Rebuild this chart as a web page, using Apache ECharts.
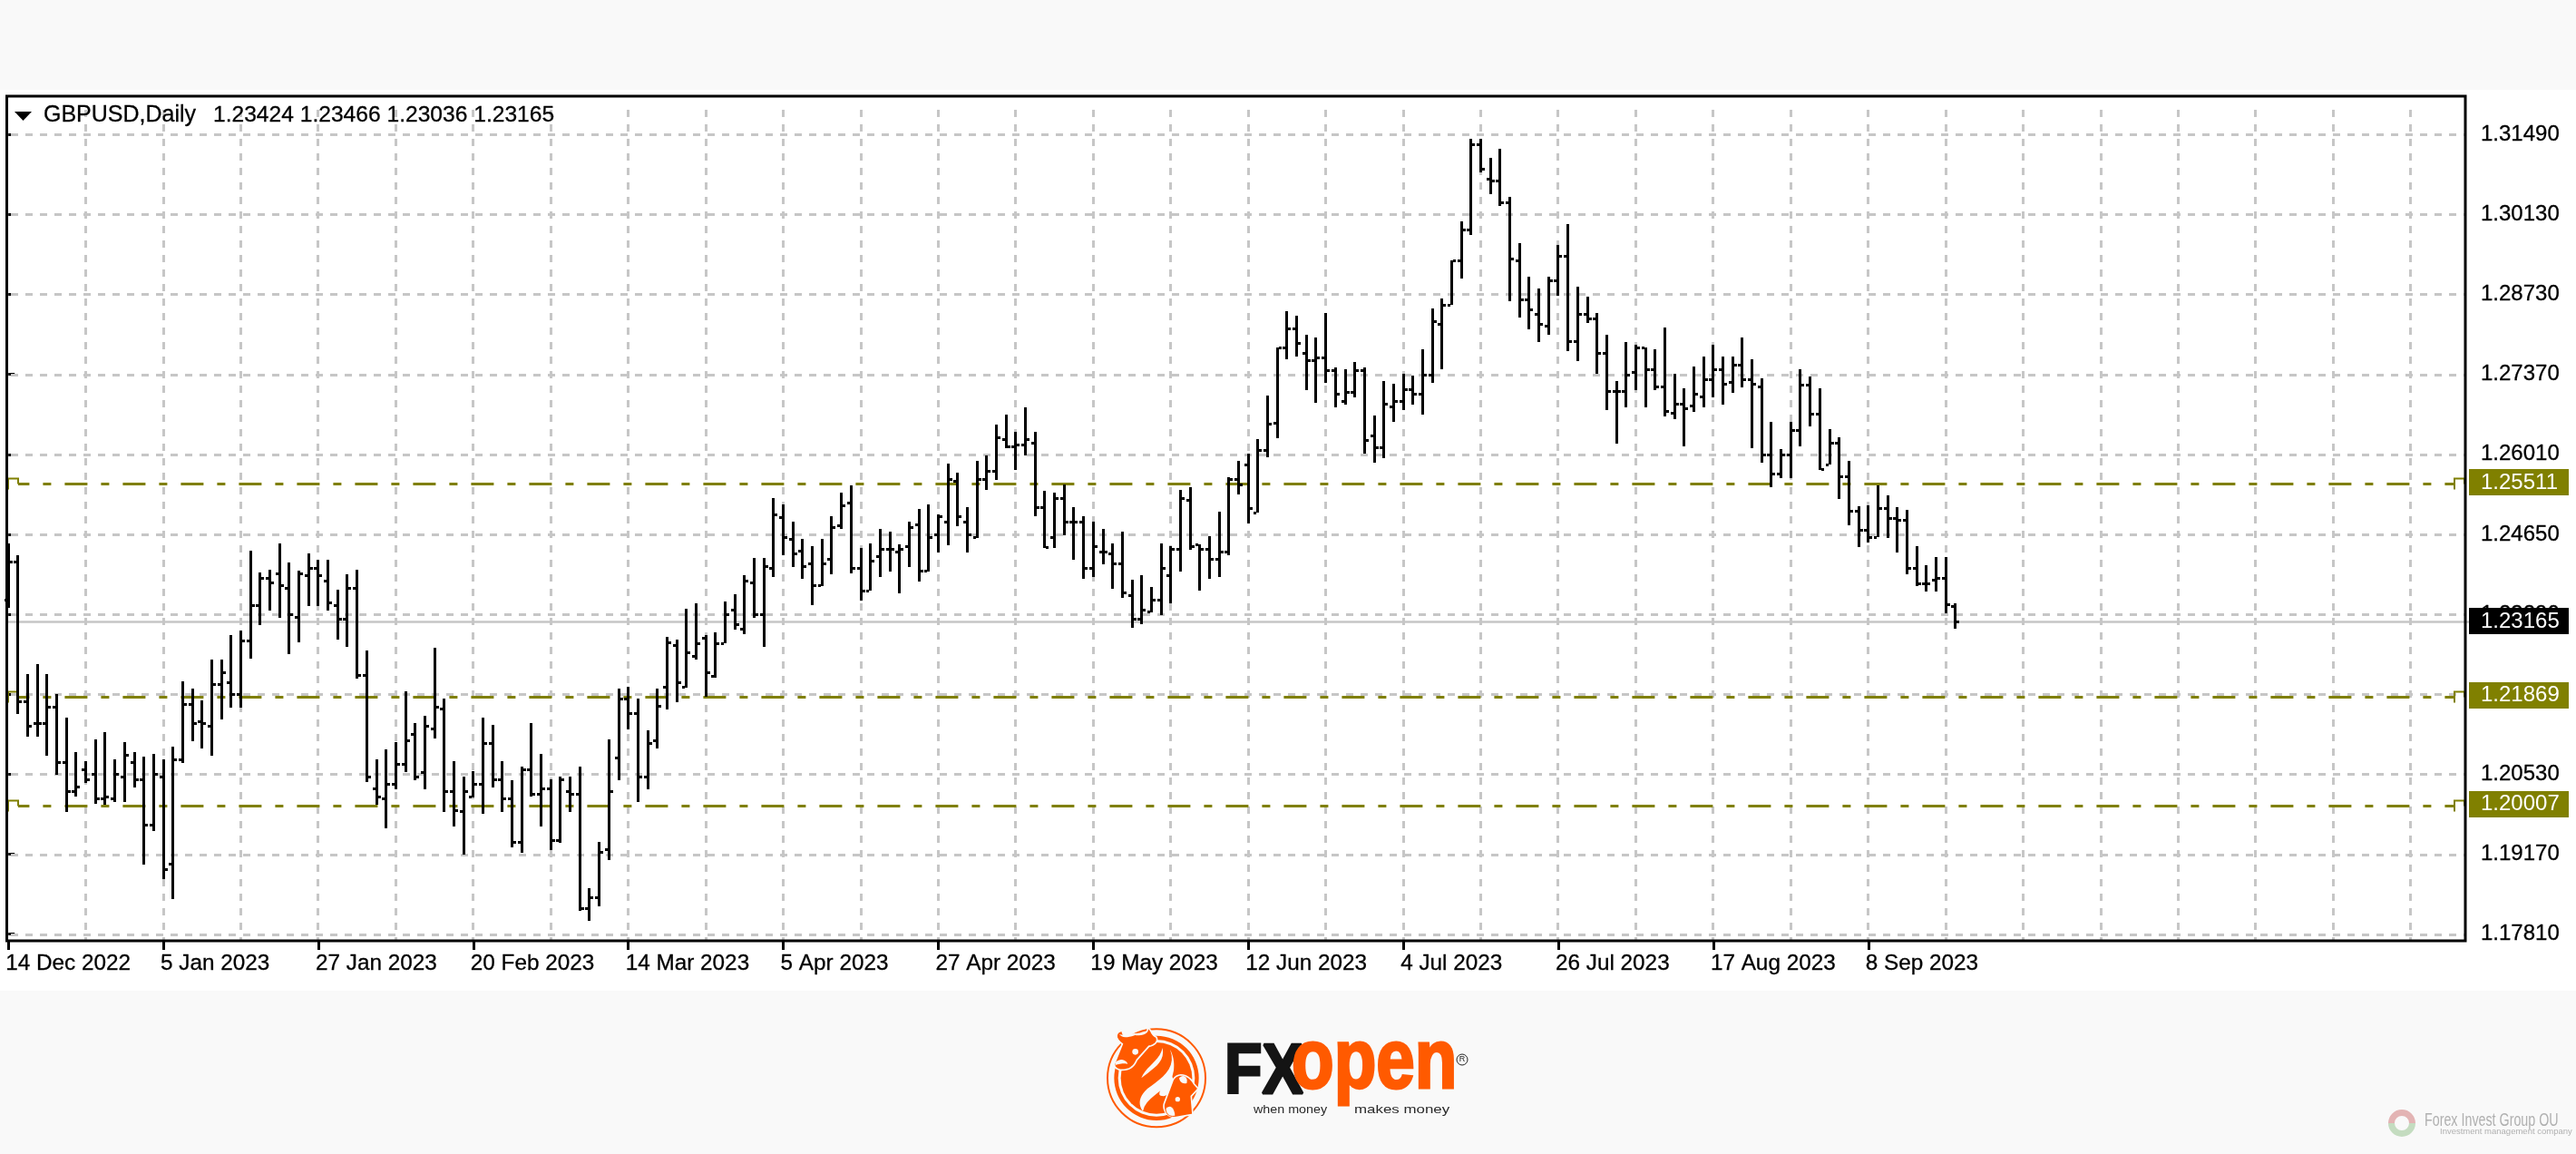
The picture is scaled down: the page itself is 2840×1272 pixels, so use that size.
<!DOCTYPE html>
<html><head><meta charset="utf-8">
<style>html,body{margin:0;padding:0;background:#f9f9f9}#c{width:2840px;height:1272px}</style>
<script src="https://cdn.jsdelivr.net/npm/echarts@6/dist/echarts.min.js"></script>
</head><body><div id="c"></div>
<script>
const symbolName = 'GBPUSD,Daily';
const lastQuote = ['1.23424','1.23466','1.23036','1.23165'];
const xTickBars = [0,16,32,48,64,80,96,112,128,144,160,176,192];
const xTickLabels = ['14 Dec 2022','5 Jan 2023','27 Jan 2023','20 Feb 2023','14 Mar 2023','5 Apr 2023','27 Apr 2023','19 May 2023','12 Jun 2023','4 Jul 2023','26 Jul 2023','17 Aug 2023','8 Sep 2023'];
const gridBars = [8,16,24,32,40,48,56,64,72,80,88,96,104,112,120,128,136,144,152,160,168,176,184,192,200,208,216,224,232,240,248];
const yGridValues = [1.3149,1.30122,1.28754,1.27386,1.26018,1.2465,1.23282,1.21914,1.20546,1.19178,1.1781];
const yTickLabels = ['1.31490','1.30130','1.28730','1.27370','1.26010','1.24650','1.23290','1.21890','1.20530','1.19170','1.17810'];
const levels = [1.25511,1.21869,1.20007];
const bidPrice = 1.23165;

const opens = [1.23525,1.24191,1.21793,1.21416,1.21416,1.21704,1.20754,1.20256,1.20629,1.20545,1.20130,1.20130,1.20503,1.20754,1.20461,1.19679,1.20503,1.19012,1.20796,1.21751,1.21458,1.21374,1.22082,1.22124,1.21919,1.22827,1.23446,1.23903,1.23987,1.23735,1.23242,1.23945,1.24071,1.23861,1.23441,1.23200,1.23735,1.22245,1.20298,1.20130,1.20377,1.20718,1.21242,1.20587,1.21332,1.21662,1.20256,1.19920,1.20167,1.20377,1.21085,1.20461,1.20130,1.19380,1.20629,1.20209,1.20298,1.19422,1.20256,1.20209,1.18262,1.18435,1.19264,1.20833,1.21835,
1.21585,1.20506,1.21130,1.22046,1.22751,1.22034,1.22576,1.22876,1.22221,1.22782,1.23362,1.23032,1.23824,1.23281,1.24073,1.24946,1.24572,1.24372,1.24154,1.23774,1.24235,1.24809,1.25195,1.24073,1.23692,1.24279,1.24403,1.24360,1.24447,1.24821,1.24023,1.24653,1.24859,1.25557,1.24859,1.24609,1.25601,1.25732,1.26274,1.26150,1.26181,1.26224,1.25108,1.24609,1.25264,1.24859,1.24859,1.24073,1.24360,1.24322,1.24154,1.23605,1.23200,1.23325,1.23530,1.23948,1.24403,1.25233,1.24485,1.24403,1.24235,1.24360,1.25601,1.25850,1.25015,1.26100,
1.26558,1.27841,1.28167,1.27753,1.27629,1.27670,1.27463,1.26925,1.27091,1.27463,1.26346,1.26139,1.26842,1.26925,1.27132,1.27049,1.27375,1.28249,1.28575,1.29330,1.29868,1.31317,1.30737,1.30696,1.30324,1.29330,1.28668,1.28420,1.28213,1.28999,1.29413,1.27960,1.28420,1.28337,1.27758,1.27096,1.27096,1.27427,1.27841,1.27468,1.27178,1.26723,1.26889,1.26847,1.27013,1.27302,1.27468,1.27261,1.27551,1.27302,1.27178,
1.26015,1.25684,1.26015,1.26429,1.27215,1.26718,1.25844,1.26222,1.25642,1.25058,1.24727,1.24603,1.25099,1.24934,1.24892,1.24075,1.23816,1.23868,1.23909,1.23424];
const highs = [1.24496,1.24286,1.22266,1.22423,1.22266,1.21925,1.21515,1.20928,1.20765,1.21137,1.21258,1.20807,1.21101,1.20928,1.20849,1.20886,1.20807,1.21017,1.22134,1.22003,1.21804,1.22502,1.22502,1.22921,1.23000,1.24375,1.23997,1.24039,1.24496,1.24165,1.24034,1.24328,1.24207,1.24207,1.23709,1.23960,1.24039,1.22670,1.20807,1.20970,1.21101,1.21967,1.21426,1.21552,1.22712,1.21846,1.20765,1.20508,1.20597,1.21510,1.21389,1.20765,1.20440,1.20681,1.21426,1.20886,1.20455,1.20508,1.20508,1.20681,1.18603,1.19390,1.21137,1.22003,1.22045,
1.21847,1.21304,1.22003,1.22888,1.22844,1.23374,1.23462,1.22926,1.22969,1.23499,1.23624,1.23954,1.24248,1.24248,1.25276,1.25164,1.24871,1.24578,1.24453,1.24578,1.24952,1.25370,1.25489,1.24416,1.24497,1.24746,1.24703,1.24485,1.24871,1.25077,1.25164,1.24996,1.25863,1.25701,1.25121,1.25900,1.25994,1.26524,1.26692,1.26399,1.26817,1.26399,1.25401,1.25370,1.25495,1.25121,1.24952,1.24871,1.24746,1.24497,1.24703,1.23873,1.23954,1.23749,1.24497,1.24447,1.25414,1.25451,1.24485,1.24622,1.25040,1.25619,1.25900,1.26025,1.26274,1.27023,
1.27841,1.28472,1.28384,1.28058,1.28017,1.28436,1.27505,1.27479,1.27603,1.27505,1.26687,1.27272,1.27230,1.27401,1.27360,1.27815,1.28513,1.28684,1.29341,1.30003,1.31410,1.31410,1.31084,1.31250,1.30417,1.29636,1.29056,1.28849,1.29056,1.29594,1.29961,1.28885,1.28720,1.28435,1.28063,1.27272,1.27934,1.27892,1.27851,1.27809,1.28187,1.27390,1.27153,1.27520,1.27685,1.27892,1.27685,1.27685,1.28016,1.27644,1.27313,
1.26573,1.26108,1.26573,1.27468,1.27349,1.27142,1.26444,1.26315,1.25901,1.25125,1.25151,1.25487,1.25322,1.25115,1.25073,1.24452,1.24126,1.24256,1.24256,1.23466];
const lows = [1.23394,1.21573,1.21190,1.21190,1.20859,1.20534,1.19904,1.20167,1.20403,1.20036,1.20020,1.20072,1.20072,1.20324,1.18997,1.19579,1.18750,1.18414,1.20744,1.21111,1.20980,1.20859,1.21479,1.21688,1.21688,1.22517,1.23095,1.23341,1.23226,1.22596,1.22806,1.23420,1.23420,1.23352,1.22843,1.22722,1.22187,1.20413,1.20020,1.19616,1.20282,1.20576,1.20445,1.20282,1.21153,1.19904,1.19658,1.19170,1.20141,1.19862,1.20324,1.19904,1.19291,1.19196,1.20167,1.19658,1.19249,1.19369,1.19904,1.18210,1.18042,1.18288,1.19081,1.20445,1.21311,
1.20069,1.20288,1.20986,1.21647,1.21772,1.22021,1.22514,1.21878,1.22190,1.22782,1.23019,1.22938,1.23219,1.22720,1.23923,1.24297,1.24092,1.23886,1.23431,1.23761,1.23967,1.24746,1.23979,1.23512,1.23686,1.23923,1.24011,1.23636,1.24092,1.23842,1.24017,1.24341,1.24466,1.24796,1.24341,1.24591,1.25414,1.25576,1.26118,1.25757,1.25994,1.24965,1.24422,1.24422,1.24634,1.24216,1.23886,1.23923,1.24135,1.23717,1.23562,1.23050,1.23106,1.23312,1.23262,1.23468,1.24011,1.24391,1.23686,1.23886,1.23923,1.24297,1.25339,1.24840,1.25015,1.25962,
1.26289,1.27649,1.27696,1.27117,1.26904,1.27236,1.26822,1.26868,1.26987,1.26030,1.25870,1.25953,1.26573,1.26780,1.26868,1.26703,1.27236,1.27479,1.28575,1.29020,1.29765,1.30841,1.30468,1.30261,1.28642,1.28358,1.28151,1.27944,1.28068,1.28730,1.27778,1.27613,1.28270,1.27401,1.26780,1.26201,1.26821,1.27116,1.26821,1.27116,1.26661,1.26615,1.26159,1.26739,1.26821,1.26987,1.26868,1.27075,1.27158,1.26118,1.25875,
1.25461,1.25616,1.25616,1.26159,1.26496,1.25746,1.25844,1.25254,1.24799,1.24427,1.24514,1.24603,1.24592,1.24339,1.23971,1.23764,1.23676,1.23676,1.23304,1.23036];
const closes = [1.24191,1.21793,1.21374,1.21416,1.21704,1.20754,1.20256,1.20340,1.20461,1.20130,1.20167,1.20545,1.20880,1.20461,1.19679,1.20545,1.18923,1.20796,1.21751,1.21416,1.21416,1.22082,1.22292,1.21919,1.22827,1.23446,1.23903,1.23819,1.23777,1.23278,1.23987,1.24071,1.23945,1.23483,1.23200,1.23735,1.22245,1.20503,1.20167,1.20377,1.20718,1.21127,1.20503,1.21374,1.21704,1.20256,1.19931,1.20256,1.20377,1.21085,1.20461,1.20130,1.19380,1.20629,1.20209,1.20298,1.19422,1.20461,1.20209,1.18252,1.18435,1.19222,1.20256,1.21835,1.21584,
1.20506,1.21086,1.21709,1.22795,1.22121,1.22626,1.22782,1.22283,1.22782,1.23281,1.23113,1.23861,1.23281,1.24110,1.24983,1.24609,1.24322,1.24110,1.23774,1.24154,1.24778,1.25152,1.24073,1.23692,1.24198,1.24403,1.24403,1.24403,1.24778,1.24023,1.24609,1.24952,1.25601,1.24952,1.24653,1.25601,1.25732,1.26305,1.26150,1.26181,1.26274,1.25108,1.24435,1.25264,1.24859,1.24859,1.24073,1.24447,1.24360,1.24154,1.23655,1.23200,1.23356,1.23530,1.24073,1.24403,1.25276,1.24447,1.24403,1.24235,1.24360,1.25601,1.25495,1.25102,1.26100,1.26536,
1.27841,1.28167,1.27918,1.27629,1.27670,1.27463,1.27049,1.27091,1.27463,1.26263,1.26139,1.26884,1.26925,1.27132,1.27049,1.27375,1.28291,1.28580,1.29341,1.29868,1.31317,1.30903,1.30696,1.30324,1.29372,1.28668,1.28503,1.28254,1.28999,1.29413,1.27960,1.28420,1.28337,1.27758,1.27096,1.27096,1.27385,1.27841,1.27468,1.27178,1.26765,1.26889,1.26806,1.27054,1.27302,1.27468,1.27220,1.27551,1.27302,1.27220,1.26014,
1.25684,1.26015,1.26429,1.27215,1.26718,1.25761,1.26222,1.25642,1.25058,1.24727,1.24603,1.25099,1.24934,1.24892,1.24075,1.23816,1.23816,1.23909,1.23454,1.23165];

const BLACK='#000', GRIDC='#c6c6c6', OLIVE='#808000', ORANGE='#ff5a00', PAGE='#f9f9f9';
const FONT='"Liberation Sans",Arial,sans-serif';
const barData = opens.map((o,i)=>[i,o,highs[i],lows[i],closes[i]]);

function rect(x,y,w,h,fill){return {type:'rect',shape:{x,y,width:w,height:h},style:{fill}};}

const series = [
 {type:'custom',z:1,silent:true,data:yGridValues.map(v=>[0,v]),encode:{x:0,y:1},
  renderItem(p,api){const y=Math.round(api.coord([0,api.value(1)])[1])+0.5,c=p.coordSys;
   return {type:'line',shape:{x1:c.x+10,y1:y,x2:c.x+c.width,y2:y},style:{stroke:GRIDC,lineWidth:3,lineDash:[8,8]}};}},
 {type:'custom',z:1,silent:true,data:gridBars.map(b=>[b,1.25]),encode:{x:0,y:1},
  renderItem(p,api){const x=Math.floor(api.coord([api.value(0),1.25])[0])+0.5,c=p.coordSys;
   return {type:'line',shape:{x1:x,y1:c.y+15,x2:x,y2:c.y+c.height},style:{stroke:GRIDC,lineWidth:3,lineDash:[8,8]}};}},
 {type:'custom',z:2,silent:true,clip:false,data:[[0,bidPrice]],encode:{x:0,y:1},
  renderItem(p,api){const y=Math.round(api.coord([0,api.value(1)])[1])+0.5,c=p.coordSys;
   return {type:'line',shape:{x1:c.x+6,y1:y,x2:c.x+c.width+4,y2:y},style:{stroke:GRIDC,lineWidth:2.5}};}},
 {type:'custom',z:3,silent:true,data:levels.map(v=>[0,v]),encode:{x:0,y:1},
  renderItem(p,api){const y=Math.round(api.coord([0,api.value(1)])[1])+0.5,c=p.coordSys;
   const L=c.x+7, R=c.x+c.width;
   const hook=(pts)=>({type:'polyline',shape:{points:pts},style:{stroke:OLIVE,lineWidth:2,fill:null}});
   return {type:'group',children:[
    {type:'line',shape:{x1:L+11,y1:y,x2:R-12,y2:y},style:{stroke:OLIVE,lineWidth:3,lineDash:[25,15,9,15],lineDashOffset:12.6}},
    hook([[L,y+6],[L,y-6],[L+11,y-6],[L+11,y]]),
    hook([[R-12,y+6],[R-12,y-6],[R-1,y-6],[R-1,y]])
   ]};}},
 {type:'custom',z:5,silent:true,data:barData,encode:{x:0,y:[1,2,3,4]},
  renderItem(p,api){const i=api.value(0);
   const x=Math.floor(api.coord([i,1.25])[0]);
   const yo=Math.round(api.coord([i,api.value(1)])[1]),yh=Math.round(api.coord([i,api.value(2)])[1]),
         yl=Math.round(api.coord([i,api.value(3)])[1]),yc=Math.round(api.coord([i,api.value(4)])[1]);
   return {type:'group',children:[
    rect(x-1,yh,3,yl-yh,BLACK),
    rect(x-4,yo-1,3,3,BLACK),
    rect(x+2,yc-1,3,3,BLACK)
   ]};}},
 {type:'custom',z:20,silent:true,clip:false,
  data:levels.map(v=>[0,v,0]).concat([[0,bidPrice,1]]),encode:{x:0,y:1},
  renderItem(p,api){const v=api.value(1),bid=api.value(2)===1;
   const c=p.coordSys,X=c.x+c.width+4,yc=api.coord([0,v])[1]-(bid?0.5:2.5);
   return {type:'group',children:[
    rect(X,Math.round(yc-14),110,29,bid?BLACK:OLIVE),
    {type:'text',style:{x:X+13,y:yc+1,text:v.toFixed(5),fill:'#fff',font:'24px '+FONT,textAlign:'left',textVerticalAlign:'middle'}}
   ]};}}
];

// flattens an absolute M/L/C/Z outline into polygon points
function flat(d){
 const t=d.match(/[MLCZ]|-?[\d.]+/g);let k=0,cx=0,cy=0;const pts=[];
 while(k<t.length){const c=t[k++];
  if(c==='M'||c==='L'){cx=+t[k++];cy=+t[k++];pts.push([cx,cy]);}
  else if(c==='C'){const a=+t[k++],b=+t[k++],e=+t[k++],f=+t[k++],g=+t[k++],h=+t[k++];
   for(let s=1;s<=10;s++){const u=s/10,w=1-u;pts.push([w*w*w*cx+3*w*w*u*a+3*w*u*u*e+u*u*u*g,w*w*w*cy+3*w*w*u*b+3*w*u*u*f+u*u*u*h]);}
   cx=g;cy=h;}
 }
 return pts;
}
const poly=(d,style)=>({type:'polygon',shape:{points:flat(d)},style});

const g=[];
g.push({type:'rect',z:-10,shape:{x:0,y:99,width:2840,height:993},style:{fill:'#fff'},silent:true});
g.push({type:'rect',z:50,shape:{x:7.5,y:106,width:2710.5,height:931},style:{fill:null,stroke:BLACK,lineWidth:3},silent:true});
g.push({type:'polygon',z:60,shape:{points:[[16,123],[35,123],[25.5,133]]},style:{fill:BLACK},silent:true});
g.push({type:'text',z:60,x:48,y:127,style:{text:symbolName,fill:BLACK,font:'25px '+FONT,textVerticalAlign:'middle',stroke:BLACK,lineWidth:0.3},silent:true});
g.push({type:'text',z:60,x:235,y:127,style:{text:lastQuote.join(' '),fill:BLACK,font:'24.6px '+FONT,textVerticalAlign:'middle',stroke:BLACK,lineWidth:0.3},silent:true});
const logoKids=[
 {type:'circle',shape:{cx:375,cy:265,r:162},style:{fill:null,stroke:ORANGE,lineWidth:6}},
 {type:'ring',shape:{cx:375,cy:265,r:140,r0:127},style:{fill:ORANGE}},
 {type:'circle',shape:{cx:375,cy:265,r:118},style:{fill:ORANGE}},
 poly('M395 165 C385 210 340 225 325 265 C360 235 405 215 395 165 Z',{fill:PAGE}),
 poly('M420 170 C445 235 385 270 345 300 C318 325 312 350 330 375 C340 320 425 305 432 240 C435 210 430 190 420 170 Z',{fill:PAGE}),
 poly('M425 255 C415 280 380 300 385 320 C395 332 425 320 432 290 C432 275 430 265 425 255 Z',{fill:PAGE}),
 poly('M262 108 C238 112 236 135 262 152 L238 212 C232 225 240 238 262 238 C285 238 300 228 310 205 L350 160 C375 155 380 140 375 130 C355 120 360 105 345 98 C350 115 330 125 300 120 C280 125 262 130 262 108 Z',{fill:ORANGE,stroke:PAGE,lineWidth:5}),
 poly('M252 120 C262 135 290 132 320 115 C300 118 270 125 252 120 Z',{fill:PAGE}),
 {type:'circle',shape:{cx:305,cy:178,r:10},style:{fill:PAGE}},
 poly('M240 212 C255 198 275 205 280 218 C265 215 250 218 240 222 Z',{fill:PAGE}),
 poly('M430 270 C445 245 480 250 500 285 L513 300 L490 325 L495 385 L440 395 C410 395 395 370 400 350 Z',{fill:ORANGE,stroke:PAGE,lineWidth:5}),
 {type:'circle',shape:{cx:445,cy:335,r:8},style:{fill:PAGE}},
 poly('M405 365 C420 350 435 360 438 390 C420 395 405 385 405 365 Z',{fill:PAGE,stroke:ORANGE,lineWidth:3}),
 poly('M450 265 C465 250 480 262 475 282 C462 285 452 278 450 265 Z',{fill:PAGE})
];
g.push({type:'group',x:1150,y:1100,scaleX:1/3,scaleY:1/3,silent:true,children:logoKids});
g.push({type:'text',silent:true,x:1350,y:1145,scaleX:0.88,style:{text:'FX',fill:'#141414',font:'bold 77px '+FONT,textVerticalAlign:'top',stroke:'#141414',lineWidth:3}});
g.push({type:'text',silent:true,x:1424,y:1128,scaleX:0.83,style:{text:'open',fill:ORANGE,font:'bold 92px '+FONT,textVerticalAlign:'top',stroke:ORANGE,lineWidth:3}});
g.push({type:'text',silent:true,x:1382,y:1217,scaleX:1.1,style:{text:'when money',fill:'#2a2a2a',font:'13px '+FONT,textVerticalAlign:'top'}});
g.push({type:'text',silent:true,x:1493,y:1217,scaleX:1.3,style:{text:'makes money',fill:'#2a2a2a',font:'13px '+FONT,textVerticalAlign:'top'}});
g.push({type:'circle',silent:true,shape:{cx:1612,cy:1168,r:6},style:{fill:null,stroke:'#222',lineWidth:1}});
g.push({type:'text',silent:true,x:1612,y:1168,style:{text:'R',fill:'#222',font:'9px '+FONT,textAlign:'center',textVerticalAlign:'middle'}});
g.push({type:'sector',silent:true,shape:{cx:2648,cy:1238,r:15,r0:8,startAngle:Math.PI,endAngle:Math.PI*2,clockwise:true},style:{fill:'#e3b4b4'}});
g.push({type:'sector',silent:true,shape:{cx:2648,cy:1238,r:15,r0:8,startAngle:0,endAngle:Math.PI,clockwise:true},style:{fill:'#c4dcc0'}});
g.push({type:'text',silent:true,x:2673,y:1235,scaleX:0.68,style:{text:'Forex Invest Group OU',fill:'#b0b0b0',font:'21px '+FONT,textVerticalAlign:'middle'}});
g.push({type:'text',silent:true,x:2690,y:1247,style:{text:'Investment management company',fill:'#b0b0b0',font:'9.5px '+FONT,textVerticalAlign:'middle'}});

const nearestIdx=(arr,v)=>{let b=0;arr.forEach((a,i)=>{if(Math.abs(a-v)<Math.abs(arr[b]-v))b=i;});return b;};

const chart=echarts.init(document.getElementById('c'),null,{renderer:'canvas',width:2840,height:1272});
chart.setOption({
 animation:false,
 backgroundColor:PAGE,
 tooltip:{show:false},legend:{show:false},
 grid:{left:2,right:122,top:106,bottom:235,containLabel:false},
 xAxis:{type:'value',min:-0.674,max:253.633,splitLine:{show:false},axisLine:{show:false},
  axisTick:{show:true,length:10,customValues:xTickBars,lineStyle:{color:BLACK,width:3}},
  axisLabel:{show:true,customValues:xTickBars.map(b=>b-0.28),color:BLACK,fontFamily:'Liberation Sans',fontSize:24.3,align:'left',margin:13,textBorderColor:BLACK,textBorderWidth:0.3,
   formatter:v=>xTickLabels[nearestIdx(xTickBars,v)]}},
 yAxis:{type:'value',position:'right',min:1.17696,max:1.32145,splitLine:{show:false},axisLine:{show:false},
  axisTick:{show:true,length:7,customValues:yGridValues,lineStyle:{color:BLACK,width:3}},
  axisLabel:{show:true,customValues:yGridValues,color:BLACK,fontFamily:'Liberation Sans',fontSize:24,margin:17,padding:[3,0,0,0],textBorderColor:BLACK,textBorderWidth:0.3,
   formatter:v=>yTickLabels[nearestIdx(yGridValues,v)]}},
 graphic:g,
 series
});
</script></body></html>
